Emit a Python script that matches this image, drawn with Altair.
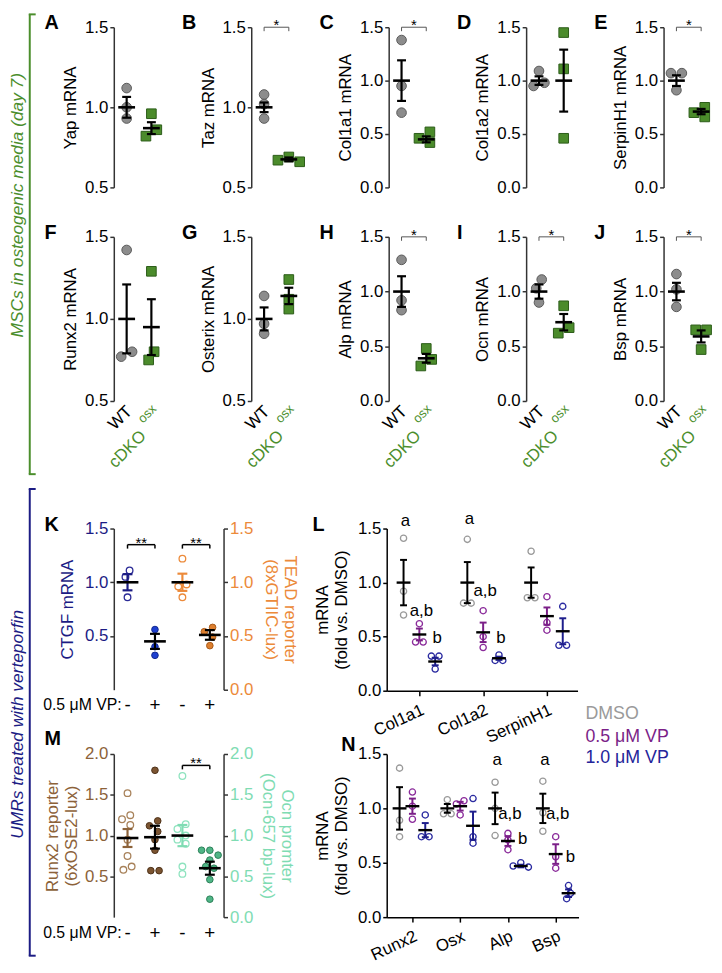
import math
import altair as alt
import pandas as pd

FONT = "Liberation Sans"

# ---------------- data ----------------
GENO = ["WT", "cDKO"]

yap_wt = [1.12, 1.00, 0.93]
yap_ko = [0.96, 0.86, 0.82]
yap_mean = [1.00, 0.87]
yap_sem = [0.065, 0.037]

taz_wt = [1.08, 1.02, 0.93]
taz_ko = [0.69, 0.67, 0.66]
taz_mean = [1.00, 0.675]
taz_sem = [0.03, 0.012]

col1a1_wt = [1.38, 0.95, 0.70]
col1a1_ko = [0.52, 0.46, 0.42]
col1a1_mean = [1.00, 0.45]
col1a1_sem = [0.19, 0.028]

col1a2_wt = [1.09, 0.98, 0.95]
col1a2_ko = [1.45, 1.11, 0.46]
col1a2_mean = [1.00, 1.00]
col1a2_sem = [0.04, 0.29]

serpinh1_wt = [1.07, 1.07, 0.91]
serpinh1_ko = [0.75, 0.70, 0.66]
serpinh1_mean = [1.00, 0.71]
serpinh1_sem = [0.05, 0.025]

runx2_wt = [1.42, 0.80, 0.77]
runx2_ko = [1.29, 0.80, 0.75]
runx2_mean = [1.00, 0.95]
runx2_sem = [0.21, 0.17]

osterix_wt = [1.14, 0.97, 0.91]
osterix_ko = [1.24, 1.12, 1.06]
osterix_mean = [1.00, 1.14]
osterix_sem = [0.07, 0.05]

alp_wt = [1.29, 0.92, 0.83]
alp_ko = [0.48, 0.38, 0.32]
alp_mean = [1.00, 0.39]
alp_sem = [0.14, 0.04]

ocn_wt = [1.11, 1.03, 0.90]
ocn_ko = [0.87, 0.67, 0.62]
ocn_mean = [1.00, 0.72]
ocn_sem = [0.065, 0.075]

bsp_wt = [1.16, 1.02, 0.86]
bsp_ko = [0.65, 0.65, 0.47]
bsp_mean = [1.00, 0.59]
bsp_sem = [0.08, 0.055]

# panel K
ctgf_ctrl = [1.11, 1.05, 0.86]
ctgf_vp = [0.56, 0.40, 0.32]
ctgf_mean = [1.00, 0.45]
ctgf_sem = [0.075, 0.07]
tead_ctrl = [1.22, 0.98, 0.96, 0.86]
tead_vp = [0.58, 0.54, 0.49, 0.41]
tead_mean = [1.00, 0.51]
tead_sem = [0.08, 0.045]

# panel M
runx2rep_ctrl = [1.52, 1.25, 1.20, 1.13, 0.95, 0.75, 0.62, 0.58]
runx2rep_vp = [1.80, 1.18, 1.12, 1.05, 0.95, 0.82, 0.57, 0.57]
runx2rep_mean = [0.97, 0.98]
runx2rep_sem = [0.11, 0.14]
ocnprom_ctrl = [1.73, 1.14, 1.08, 1.00, 0.95, 0.90, 0.62, 0.53]
ocnprom_vp = [0.82, 0.82, 0.76, 0.70, 0.62, 0.60, 0.46, 0.22]
ocnprom_mean = [1.00, 0.60]
ocnprom_sem = [0.13, 0.08]

VP_SIGNS = ["-", "+", "-", "+"]
TREAT = ["DMSO", "0.5 μM VP", "1.0 μM VP"]

# panel L  (per gene: DMSO, 0.5, 1.0)
L_GENES = ["Col1a1", "Col1a2", "SerpinH1"]
l_col1a1 = [[1.41, 0.92, 0.70], [0.62, 0.45, 0.45], [0.32, 0.32, 0.20]]
l_col1a2 = [[1.40, 0.81, 0.81], [0.74, 0.50, 0.40], [0.33, 0.28, 0.28]]
l_serpinh1 = [[1.29, 0.86, 0.86], [0.87, 0.63, 0.56], [0.78, 0.42, 0.42]]
l_means = [[1.00, 0.52, 0.27], [1.00, 0.54, 0.30], [1.00, 0.69, 0.55]]
l_sems = [[0.21, 0.055, 0.035], [0.19, 0.09, 0.015], [0.14, 0.08, 0.12]]
l_ann_gene = [0, 0, 0, 1, 1, 1]
l_ann_treat = [0, 1, 2, 0, 1, 2]
l_ann_text = ["a", "a,b", "b", "a", "a,b", "b"]
l_ann_y = [1.57, 0.74, 0.49, 1.59, 0.92, 0.49]

# panel N
N_GENES = ["Runx2", "Osx", "Alp", "Bsp"]
n_runx2 = [[1.37, 0.89, 0.74], [1.15, 1.02, 0.90], [0.94, 0.74, 0.74]]
n_osx = [[1.08, 0.95, 0.95], [1.07, 1.04, 0.94], [1.09, 0.74, 0.68]]
n_alp = [[1.24, 1.00, 0.75], [0.77, 0.71, 0.62], [0.50, 0.47, 0.46]]
n_bsp = [[1.25, 0.96, 0.79], [0.74, 0.555, 0.45], [0.29, 0.22, 0.17]]
n_means = [[1.00, 1.02, 0.80], [1.00, 1.02, 0.84], [1.00, 0.70, 0.47], [1.00, 0.58, 0.22]]
n_sems = [[0.195, 0.07, 0.065], [0.04, 0.04, 0.13], [0.145, 0.045, 0.012], [0.135, 0.09, 0.035]]
n_ann_gene = [2, 2, 2, 3, 3, 3]
n_ann_treat = [0, 1, 2, 0, 1, 2]
n_ann_text = ["a", "a,b", "b", "a", "a,b", "b"]
n_ann_y = [1.44, 0.945, 0.72, 1.44, 0.945, 0.55]

# ---------------- colours ----------------
GRAY_F, GRAY_S = "#8c8c8c", "#5a5a5a"
GREEN_F, GREEN_S, GREEN_T = "#4b8b2b", "#2c5c18", "#4b8e2c"
NAVY = "#1c1c84"
BLUE_F, BLUE_S = "#1d3fd0", "#12288f"
ORANGE, ORANGE_F, ORANGE_S = "#ec8a3a", "#dd7f2e", "#a85a1a"
BROWN, BROWN_O, BROWN_F, BROWN_S = "#8c6239", "#a8825a", "#7b5431", "#4d3219"
MINT, MINT_O, MINT_F, MINT_S = "#7fdcb3", "#8fe3bf", "#4fb586", "#2c7f58"
DMSO_C, PURPLE, NAVY2 = "#9a9a9a", "#7b1f88", "#24249a"
TREAT_PT = [DMSO_C, "#8a2a9a", "#2a2aa0"]
TREAT_BAR = ["black", PURPLE, "#1e1e8c"]

FS = 17  # axis label / title size
ONE = pd.DataFrame({"k": [0]})


# ---------------- helpers ----------------
def swarm(vals, ppu, diam):
    n = len(vals)
    order = sorted(range(n), key=lambda i: -vals[i])
    placed, off = [], [0.0] * n
    step = diam * 0.55
    for i in order:
        y = vals[i] * ppu
        x = 0.0
        for k in [0, -1, 1, -2, 2, -3, 3, -4, 4, -5, 5]:
            x = k * step
            if all((x - px) ** 2 + (y - py) ** 2 >= (0.9 * diam) ** 2 for px, py in placed):
                break
        placed.append((x, y))
        off[i] = x
    parent = list(range(n))

    def find(a):
        while parent[a] != a:
            a = parent[a]
        return a
    for i in range(n):
        for j in range(i + 1, n):
            if abs(vals[i] - vals[j]) * ppu < diam:
                parent[find(i)] = find(j)
    groups = {}
    for i in range(n):
        groups.setdefault(find(i), []).append(i)
    for g in groups.values():
        if len(g) > 1:
            m = sum(off[i] for i in g) / len(g)
            for i in g:
                off[i] -= m
    return off


def guard(x1, y1, x2, y2):
    return alt.Chart(ONE).mark_rule(opacity=0, strokeWidth=1).encode(
        x=alt.value(x1), x2=alt.value(x2), y=alt.value(y1), y2=alt.value(y2))


def letter(t, x, y):
    return alt.Chart(ONE).mark_text(text=t, align="left", baseline="middle", font=FONT,
                                    fontSize=20, fontWeight="bold", color="black").encode(
        x=alt.value(x), y=alt.value(y))


def err_layers(summ, X, Y, cap, meanw, thick):
    rule = alt.Chart(summ).mark_rule(strokeWidth=thick).encode(
        x=X("x:Q"), y=Y("lo:Q"), y2="hi:Q", color=alt.Color("c:N", scale=None))
    capdf = pd.concat([summ.assign(e=summ["lo"]), summ.assign(e=summ["hi"])], ignore_index=True)
    caps = alt.Chart(capdf).mark_tick(orient="horizontal", size=cap, thickness=thick, opacity=1).encode(
        x=X("x:Q"), y=Y("e:Q"), color=alt.Color("c:N", scale=None))
    mean = alt.Chart(summ).mark_tick(orient="horizontal", size=meanw, thickness=thick + 0.4,
                                     opacity=1, color="black").encode(x=X("x:Q"), y=Y("m:Q"))
    return [rule, caps, mean]


def star_layers(x1, x2, y, drop, X, Y, txt, col, sw):
    d = pd.DataFrame({"x1": [x1], "x2": [x2], "y": [y], "yd": [y - drop], "xm": [(x1 + x2) / 2]})
    h = alt.Chart(d).mark_rule(color=col, strokeWidth=sw).encode(x=X("x1:Q"), x2="x2:Q", y=Y("y:Q"))
    l = alt.Chart(d).mark_rule(color=col, strokeWidth=sw).encode(x=X("x1:Q"), y=Y("y:Q"), y2="yd:Q")
    r = alt.Chart(d).mark_rule(color=col, strokeWidth=sw).encode(x=X("x2:Q"), y=Y("y:Q"), y2="yd:Q")
    t = alt.Chart(d).mark_text(text=txt, fontSize=15, baseline="alphabetic", dy=3, font=FONT,
                               color="black").encode(x=X("xm:Q"), y=Y("y:Q"))
    return [h, l, r, t]


def point_layer(df, X, Y, filled, color, stroke, size, shape="circle"):
    if filled:
        mk = alt.Chart(df).mark_point(shape=shape, filled=True, size=size, fill=color,
                                      stroke=stroke, strokeWidth=1, opacity=1)
    else:
        mk = alt.Chart(df).mark_point(shape=shape, filled=False, size=size, color=color,
                                      strokeWidth=1.3, opacity=1)
    return mk.encode(x=X("x:Q"), y=Y("v:Q"))


def make_xy(xs, xaxis, ys, yaxis):
    def X(f):
        return alt.X(f, scale=xs, axis=xaxis)

    def Y(f):
        return alt.Y(f, scale=ys, axis=yaxis)
    return X, Y


# ---------------- rows A-J ----------------
W12 = 43
XD12 = [-0.52, 1.2]


def geno_panel(spec, H, grd, labels):
    letter_t, gene, wt, ko, means, sems, ymin, star = spec
    xs = alt.Scale(domain=XD12, nice=False, zero=False)
    ys = alt.Scale(domain=[ymin, 1.5], nice=False, zero=False)
    ticks = [0.5, 1.0, 1.5] if ymin > 0 else [0.0, 0.5, 1.0, 1.5]
    ppu = H / (1.5 - ymin)
    spx = W12 / (XD12[1] - XD12[0])
    yaxis = alt.Axis(values=ticks, format=".1f", title=f"{gene} mRNA", titlePadding=5)
    X, Y = make_xy(xs, None, ys, yaxis)
    layers = []
    for gi, vals in enumerate([wt, ko]):
        off = swarm(vals, ppu, 10)
        df = pd.DataFrame({"x": [gi + o / spx for o in off], "v": vals})
        if gi == 0:
            layers.append(point_layer(df, X, Y, True, GRAY_F, GRAY_S, 95))
        else:
            layers.append(point_layer(df, X, Y, True, GREEN_F, GREEN_S, 95, "square"))
    summ = pd.DataFrame({"x": [0, 1], "m": means,
                         "lo": [a - b for a, b in zip(means, sems)],
                         "hi": [a + b for a, b in zip(means, sems)], "c": ["black", "black"]})
    layers += err_layers(summ, X, Y, 9, 17, 2.2)
    if star:
        layers += star_layers(0, 1, 1.5, 4 / ppu, X, Y, "*", "#555555", 1)
    layers.append(letter(letter_t, -70, -4))
    if grd:
        layers.append(guard(*grd))
    if labels:
        r = math.sqrt(0.5)
        for xi, txt, col, fs, a, b in [(0, "WT", "black", 17, 3, 8),
                                       (1, "cDKO", GREEN_T, 17, -8, 33),
                                       (1, "osx", GREEN_T, 13, 3, 6)]:
            d = pd.DataFrame({"x": [xi]})
            layers.append(alt.Chart(d).mark_text(
                text=txt, angle=315, align="right", baseline="middle", fontSize=fs, font=FONT,
                color=col, dx=r * (a - b), dy=r * (a + b)).encode(x=X("x:Q"), y=alt.value(H)))
    return alt.layer(*layers).properties(width=W12, height=H)


ROW1 = [
    ("A", "Yap", yap_wt, yap_ko, yap_mean, yap_sem, 0.5, False),
    ("B", "Taz", taz_wt, taz_ko, taz_mean, taz_sem, 0.5, True),
    ("C", "Col1a1", col1a1_wt, col1a1_ko, col1a1_mean, col1a1_sem, 0.0, True),
    ("D", "Col1a2", col1a2_wt, col1a2_ko, col1a2_mean, col1a2_sem, 0.0, False),
    ("E", "SerpinH1", serpinh1_wt, serpinh1_ko, serpinh1_mean, serpinh1_sem, 0.0, True),
]
ROW2 = [
    ("F", "Runx2", runx2_wt, runx2_ko, runx2_mean, runx2_sem, 0.5, False),
    ("G", "Osterix", osterix_wt, osterix_ko, osterix_mean, osterix_sem, 0.5, False),
    ("H", "Alp", alp_wt, alp_ko, alp_mean, alp_sem, 0.0, True),
    ("I", "Ocn", ocn_wt, ocn_ko, ocn_mean, ocn_sem, 0.0, True),
    ("J", "Bsp", bsp_wt, bsp_ko, bsp_mean, bsp_sem, 0.0, True),
]

H1, H2 = 162, 166
row1 = alt.hconcat(*[geno_panel(s, H1, (-74, -14, -74, 198) if i == 0 else None, False)
                     for i, s in enumerate(ROW1)], spacing=96, bounds="flush")
row2 = alt.hconcat(*[geno_panel(s, H2, (-74, -14, -74, 275) if i == 0 else None, True)
                     for i, s in enumerate(ROW2)], spacing=96, bounds="flush")


# ---------------- K / M ----------------
WKM = 111
XDKM = [-0.5, 3.5]


def series(groups, X, Y, ppu, spx):
    layers = []
    for g in groups:
        off = swarm(g["vals"], ppu, 7.6)
        df = pd.DataFrame({"x": [g["x"] + o / spx for o in off], "v": g["vals"]})
        layers.append(point_layer(df, X, Y, g["filled"], g["color"], g.get("stroke", g["color"]), 45))
    summ = pd.DataFrame({"x": [g["x"] for g in groups], "m": [g["mean"] for g in groups],
                         "lo": [g["mean"] - g["sem"] for g in groups],
                         "hi": [g["mean"] + g["sem"] for g in groups],
                         "c": [g["bar"] for g in groups]})
    layers += err_layers(summ, X, Y, 10, 22, 2.2)
    return layers


def dual_panel(letter_t, lxy, H, ymax, lgroups, rgroups, laxis, raxis, stars, grd):
    xs = alt.Scale(domain=XDKM, nice=False, zero=False)
    ysl = alt.Scale(domain=[0, ymax], nice=False, zero=False)
    ysr = alt.Scale(domain=[0, ymax], nice=False, zero=False)
    ppu = H / ymax
    spx = WKM / (XDKM[1] - XDKM[0])
    X, YL = make_xy(xs, None, ysl, laxis)
    _, YR = make_xy(xs, None, ysr, raxis)
    left = series(lgroups, X, YL, ppu, spx)
    right = series(rgroups, X, YR, ppu, spx)
    for (x1, x2, y, side) in stars:
        if side == "L":
            left += star_layers(x1, x2, y, 4 / ppu, X, YL, "**", "black", 1.5)
        else:
            right += star_layers(x1, x2, y, 4 / ppu, X, YR, "**", "black", 1.5)
    sd = pd.DataFrame({"x": [0, 1, 2, 3], "t": VP_SIGNS})
    signs = alt.Chart(sd).mark_text(fontSize=19, font=FONT, color="black", baseline="middle").encode(
        x=X("x:Q"), y=alt.value(H + 16), text="t:N")
    vplab = alt.Chart(ONE).mark_text(text="0.5 μM VP:", align="right", baseline="middle", fontSize=16,
                                     font=FONT, color="black").encode(x=alt.value(8), y=alt.value(H + 16))
    extras = [signs, vplab, letter(letter_t, lxy[0], lxy[1]), guard(*grd)]
    return alt.layer(alt.layer(*left), alt.layer(*right), *extras).resolve_scale(
        y="independent").properties(width=WKM, height=H)


HK, HM = 163, 165
K = dual_panel(
    "K", (-70, -4), HK, 1.5,
    [dict(x=0, vals=ctgf_ctrl, mean=ctgf_mean[0], sem=ctgf_sem[0], filled=False, color="#2a2a96", bar=NAVY),
     dict(x=1, vals=ctgf_vp, mean=ctgf_mean[1], sem=ctgf_sem[1], filled=True, color=BLUE_F, stroke=BLUE_S, bar="black")],
    [dict(x=2, vals=tead_ctrl, mean=tead_mean[0], sem=tead_sem[0], filled=False, color=ORANGE, bar=ORANGE),
     dict(x=3, vals=tead_vp, mean=tead_mean[1], sem=tead_sem[1], filled=True, color=ORANGE_F, stroke=ORANGE_S, bar="black")],
    alt.Axis(values=[0.5, 1.0, 1.5], format=".1f", title="CTGF mRNA", titlePadding=8,
             labelColor=NAVY, titleColor=NAVY, orient="left"),
    alt.Axis(values=[0.0, 0.5, 1.0, 1.5], format=".1f", title=["TEAD reporter", "(8xGTIIC-lux)"],
             titlePadding=9, labelColor=ORANGE, titleColor=ORANGE, orient="right"),
    [(0, 1, 1.35, "L"), (2, 3, 1.35, "R")],
    (-74, -20, 192, -20))

M = dual_panel(
    "M", (-70, -15), HM, 2.0,
    [dict(x=0, vals=runx2rep_ctrl, mean=runx2rep_mean[0], sem=runx2rep_sem[0], filled=False, color=BROWN_O, bar=BROWN),
     dict(x=1, vals=runx2rep_vp, mean=runx2rep_mean[1], sem=runx2rep_sem[1], filled=True, color=BROWN_F, stroke=BROWN_S, bar="black")],
    [dict(x=2, vals=ocnprom_ctrl, mean=ocnprom_mean[0], sem=ocnprom_sem[0], filled=False, color=MINT_O, bar=MINT),
     dict(x=3, vals=ocnprom_vp, mean=ocnprom_mean[1], sem=ocnprom_sem[1], filled=True, color=MINT_F, stroke=MINT_S, bar="black")],
    alt.Axis(values=[0.5, 1.0, 1.5, 2.0], format=".1f", title=["Runx2 reporter", "(6xOSE2-lux)"],
             titlePadding=4, labelColor=BROWN, titleColor=BROWN, orient="left"),
    alt.Axis(values=[0.0, 0.5, 1.0, 1.5, 2.0], format=".1f", title=["Ocn promter", "(Ocn-657 bp-lux)"],
             titlePadding=6, labelColor=MINT, titleColor=MINT, orient="right"),
    [(2, 3, 1.86, "R")],
    (-74, 0, -74, HM))


# ---------------- L / N ----------------
def treat_panel(letter_t, lxy, genes, pts, means, sems, ann, H, W, xdom, toff, grd, legend):
    xs = alt.Scale(domain=xdom, nice=False, zero=False)
    ys = alt.Scale(domain=[0, 1.5], nice=False, zero=False)
    ppu = H / 1.5
    spx = W / (xdom[1] - xdom[0])
    names = ",".join(f"'{g}'" for g in genes)
    xaxis = alt.Axis(values=list(range(len(genes))), labelExpr=f"[{names}][datum.value]",
                     labelAngle=-25, labelAlign="right", labelBaseline="top", labelPadding=6,
                     labelOverlap=False, labelBound=False, labelFlush=False,
                     tickSize=5, title=None, domainColor="black", tickColor="black")
    yaxis = alt.Axis(values=[0.0, 0.5, 1.0, 1.5], format=".1f", title=["mRNA", "(fold vs. DMSO)"],
                     titlePadding=7, domainColor="black", tickColor="black")
    X, Y = make_xy(xs, xaxis, ys, yaxis)
    rows = []
    for gi in range(len(genes)):
        for ti in range(3):
            rows.append((gi + (ti - 1) * toff, means[gi][ti], sems[gi][ti], TREAT_BAR[ti]))
    summ = pd.DataFrame({"x": [r[0] for r in rows], "m": [r[1] for r in rows],
                         "lo": [r[1] - r[2] for r in rows], "hi": [r[1] + r[2] for r in rows],
                         "c": [r[3] for r in rows]})
    layers = []
    for gi in range(len(genes)):
        for ti in range(3):
            vals = pts[gi][ti]
            off = swarm(vals, ppu, 7)
            xc = gi + (ti - 1) * toff
            df = pd.DataFrame({"x": [xc + o / spx for o in off], "v": vals})
            layers.append(point_layer(df, X, Y, False, TREAT_PT[ti], TREAT_PT[ti], 40))
    layers += err_layers(summ, X, Y, 7, 14, 2)
    ag, at, atx, ay = ann
    ad = pd.DataFrame({"x": [g + (t - 1) * toff for g, t in zip(ag, at)], "t": atx, "y": ay})
    layers.append(alt.Chart(ad).mark_text(fontSize=17, font=FONT, color="black", baseline="middle",
                                          dx=2).encode(x=X("x:Q"), y=Y("y:Q"), text="t:N"))
    layers.append(letter(letter_t, lxy[0], lxy[1]))
    layers.append(guard(*grd))
    if legend:
        for txt, col, yy in zip(TREAT, [DMSO_C, PURPLE, NAVY2], [-40, -17, 4]):
            layers.append(alt.Chart(ONE).mark_text(text=txt, align="left", baseline="middle",
                                                   fontSize=18, font=FONT, color=col).encode(
                x=alt.value(201), y=alt.value(yy)))
    return alt.layer(*layers).properties(width=W, height=H)


L = treat_panel("L", (-75, -4), L_GENES, [l_col1a1, l_col1a2, l_serpinh1], l_means, l_sems,
                (l_ann_gene, l_ann_treat, l_ann_text, l_ann_y), 164, 193, [-0.512, 2.48], 0.248,
                (-78, -20, 0, -20), False)
N = treat_panel("N", (-46, -9), N_GENES, [n_runx2, n_osx, n_alp, n_bsp], n_means, n_sems,
                (n_ann_gene, n_ann_treat, n_ann_text, n_ann_y), 165, 194, [-0.538, 3.478], 0.269,
                (-78, 0, -78, 165), True)

bottom = alt.hconcat(
    alt.vconcat(K, M, spacing=65, bounds="flush"),
    alt.vconcat(L, N, spacing=64, bounds="flush"),
    spacing=6)

content = alt.vconcat(row1, row2, bottom, spacing=0)


# ---------------- side brackets (positions relative to panel A's plot top) ----------------
def bracket(y1, y2, col, txt, yc):
    v = alt.Chart(ONE).mark_rule(color=col, strokeWidth=2).encode(
        x=alt.value(21), y=alt.value(y1), y2=alt.value(y2))
    t1 = alt.Chart(ONE).mark_rule(color=col, strokeWidth=2).encode(
        x=alt.value(20), x2=alt.value(27), y=alt.value(y1))
    t2 = alt.Chart(ONE).mark_rule(color=col, strokeWidth=2).encode(
        x=alt.value(20), x2=alt.value(27), y=alt.value(y2))
    tx = alt.Chart(ONE).mark_text(text=txt, angle=270, fontSize=17.5, fontStyle="italic", font=FONT,
                                  color=col, align="center", baseline="middle").encode(
        x=alt.value(9), y=alt.value(yc))
    return [v, t1, t2, tx]


brackets = alt.layer(
    *bracket(-13, 452, GREEN_T, "MSCs in osteogenic media (day 7)", 180),
    *bracket(467, 939, NAVY, "UMRs treated with verteporfin", 705),
).properties(width=28, height=900)

chart = alt.hconcat(brackets, content, spacing=4).properties(padding=0).configure_view(
    stroke=None).configure_axis(
    labelFont=FONT, titleFont=FONT, labelFontSize=FS, titleFontSize=FS, titleFontWeight="normal",
    grid=False, domainColor="#333333", tickColor="#333333", labelColor="black", titleColor="black",
    domainWidth=1.5, tickWidth=1.5, tickSize=4, labelPadding=2)

chart.save("out.html", embed_options={"renderer": "svg", "actions": False})
